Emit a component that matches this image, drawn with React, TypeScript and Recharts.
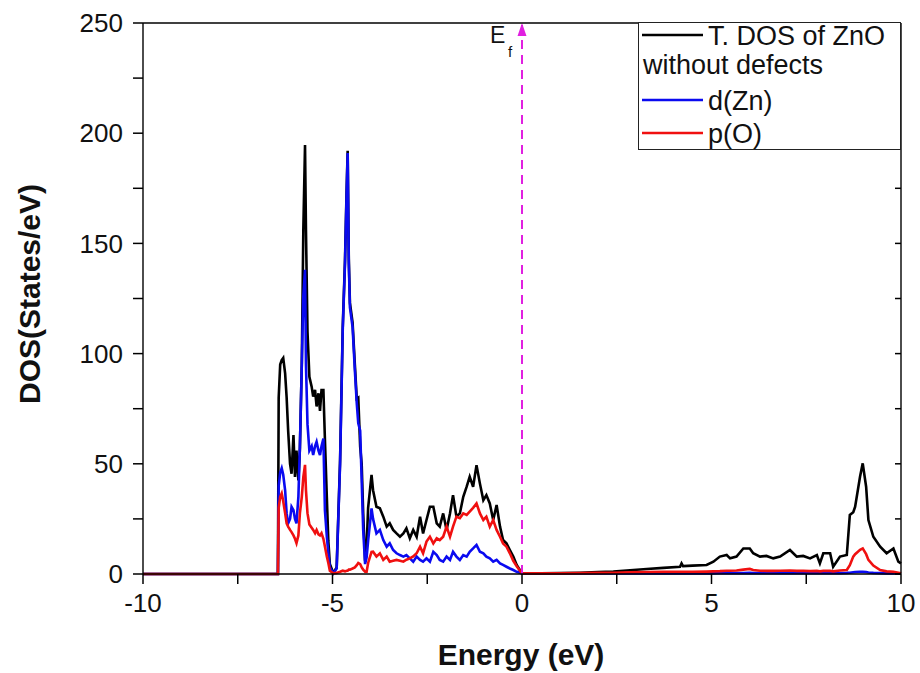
import { LineChart, Line, XAxis, YAxis, ReferenceLine, Legend } from "recharts";

// energy grid (eV) and densities of states (states/eV)
const energy = [
  -10, -6.44,
  -6.42, -6.38, -6.34, -6.3, -6.25, -6.21, -6.17, -6.12, -6.08, -6.03,
  -5.99, -5.95, -5.9, -5.86, -5.81, -5.77, -5.725, -5.7, -5.66, -5.61,
  -5.55, -5.51, -5.46, -5.42, -5.37, -5.33, -5.29, -5.24, -5.2, -5.15,
  -5.11, -5.07, -4.98, -4.89, -4.8, -4.73, -4.67, -4.63, -4.6, -4.57,
  -4.54, -4.47, -4.41, -4.36, -4.32, -4.27, -4.23, -4.19, -4.14,
  -4.1, -4.06, -3.97, -3.93, -3.84, -3.75, -3.66, -3.57, -3.49, -3.4,
  -3.31, -3.22, -3.13, -3.05, -2.96, -2.87, -2.78, -2.69, -2.61, -2.52,
  -2.43, -2.34, -2.25, -2.17, -2.08, -1.99, -1.9, -1.82, -1.73, -1.64,
  -1.55, -1.46, -1.38, -1.29, -1.2, -1.11, -1.02, -0.94, -0.85, -0.76,
  -0.67, -0.58, -0.5, -0.41, -0.32, -0.23, -0.14, 0,
  0.5, 1.0, 1.53, 2.0, 2.41, 2.85, 3.29, 3.73, 4.17, 4.21,
  4.25, 4.5, 4.87, 5.05, 5.22, 5.4, 5.49, 5.66, 5.84, 6.01,
  6.1, 6.28, 6.45, 6.63, 6.81, 7.07, 7.25, 7.42, 7.6, 7.78,
  7.86, 7.95, 8.13, 8.21, 8.39, 8.57, 8.65, 8.74, 8.79, 8.92,
  8.99, 9.08, 9.14, 9.27, 9.45, 9.62, 9.8, 9.93, 10,
];

const totalDos = [
  0, 0,
  80, 95, 97, 98, 91, 80, 65, 50, 45.5, 63,
  44, 56, 42.5, 57, 95.6, 156, 194.6, 156, 110, 89.5,
  85, 80.5, 83.5, 76, 82, 74, 83.5, 83.5, 61, 35,
  15, 4.5, 0.5, 3, 51.5, 112, 142.5, 172.5, 192, 143,
  123, 114, 95, 79.5, 80, 57.8, 50, 27.5, 6,
  12.5, 30, 45, 38, 30.5, 29.8, 26, 21.5, 23, 20,
  18.4, 16.9, 18.4, 20.7, 16.2, 20, 16.9, 26, 18.4, 24.5,
  30.5, 30.5, 23, 21.5, 27.5, 20, 27.5, 35.8, 26, 27.5,
  35, 39.6, 44.1, 39.6, 49.4, 41, 33.5, 35.8, 32, 24.5,
  31.3, 21.5, 15.4, 13.9, 10.9, 7.9, 4.1, 0.3,
  0.3, 0.4, 0.6, 0.9, 1.1, 1.7, 2.3, 2.8, 3.3, 4.8,
  3.6, 3.8, 4.1, 5.6, 7.9, 8.6, 7.1, 7.9, 11.6, 11.6,
  9.4, 7.9, 8.2, 7.1, 7.9, 10.9, 7.9, 8.2, 7.1, 8.6,
  4.8, 9.4, 9.4, 3.3, 7.9, 8.6, 26.8, 28, 30.5, 44.2,
  50.2, 39.6, 24.5, 16.9, 12.4, 9.4, 11.6, 5.6, 4.8,
];

const dZnDos = [
  0, 0,
  40, 46, 48, 45, 38, 27.5, 23, 25, 30.5, 29,
  25, 23, 35, 57.8, 95, 126, 138, 95, 68, 56,
  58, 54, 58, 60, 56, 54, 58, 61.5, 29, 17,
  9.6, 3, 0.3, 2.5, 50, 110.7, 141, 171, 191, 141,
  121, 112, 92.5, 77.5, 68.4, 65, 42.6, 20, 4.5,
  7.5, 15, 29.8, 25, 18.4, 20, 15.4, 12.4, 13.9, 10.9,
  9.4, 8.6, 7.9, 8.6, 7.1, 5.6, 7.9, 6.4, 5.6, 7.1,
  5.6, 10.1, 8.6, 6.4, 5.6, 7.9, 6.4, 10.1, 7.9, 6.4,
  8.6, 7.9, 10.1, 11.6, 13.2, 10.1, 9.4, 7.9, 7.1, 5.6,
  6.4, 4.8, 4.1, 3.3, 2.5, 1.8, 1, 0.3,
  0.2, 0.2, 0.2, 0.2, 0.2, 0.2, 0.3, 0.3, 0.3, 0.3,
  0.3, 0.3, 0.3, 0.3, 0.4, 0.4, 0.4, 0.4, 0.4, 0.5,
  0.4, 0.4, 0.4, 0.4, 0.4, 0.4, 0.4, 0.4, 0.4, 0.4,
  0.4, 0.4, 0.4, 0.4, 0.4, 0.5, 0.6, 0.8, 0.9, 1.0,
  1.0, 0.9, 0.7, 0.5, 0.4, 0.3, 0.3, 0.3, 0.2,
];

const pODos = [
  0, 0,
  30, 35, 36.6, 33, 27.6, 23, 21.5, 20, 19, 17.5,
  16, 14, 17.5, 27.6, 35, 44, 49.5, 38, 27.6, 22.5,
  21, 20, 18.5, 20, 18, 17.5, 18.5, 16, 12.5, 8,
  5, 1.5, 0.3, 0.5, 1, 1.5, 1.2, 1.5, 1.5, 2,
  2, 2.5, 3, 4, 5, 4.5, 3, 2, 1,
  1, 5, 10, 10.1, 7.9, 9.4, 6.4, 7.9, 5.6, 6,
  6.4, 6, 5.6, 6.5, 7.1, 8, 9.4, 12.4, 9.4, 14.7,
  16.9, 13.9, 16.2, 15.4, 16.9, 21.5, 16.9, 21.5, 26, 25.3,
  27.5, 26.8, 28.3, 30, 32, 27.5, 24.5, 26, 21.5, 24.5,
  20, 16.9, 13.9, 12.4, 9.4, 6, 3.5, 0.3,
  0.3, 0.3, 0.4, 0.5, 0.6, 0.8, 0.9, 1.0, 1.0, 1.0,
  1.0, 1.0, 1.1, 1.2, 1.3, 1.5, 1.5, 1.6, 2.0, 2.3,
  1.8, 1.5, 1.4, 1.4, 1.5, 1.6, 1.4, 1.4, 1.3, 1.4,
  1.2, 1.4, 1.4, 1.2, 1.6, 1.8, 4, 7.9, 9, 11,
  11.6, 9, 6.4, 3.8, 1.8, 1.2, 1.0, 0.6, 0.3,
];

const xAll = [-10, -7.5, -5, -2.5, 0, 2.5, 5, 7.5, 10];
const yAll = [0, 25, 50, 75, 100, 125, 150, 175, 200, 225, 250];
const xMin = -10;
const xMax = 10;
const yMax = 250;

const rows = energy.map((e, i) => ({
  e,
  total: totalDos[i],
  d: dZnDos[i],
  p: pODos[i],
}));

const FONT = '"Liberation Sans", Arial, sans-serif';
const AXIS = "#000";
const MAGENTA = "#e020e0";
const TOP = 23; // height of the top frame axis = plot top
const tickLine = { stroke: AXIS, strokeWidth: 1.5 };
const tickText = { fontSize: 26, fill: "#111", fontFamily: FONT };
const axisLine = { stroke: AXIS, strokeWidth: 1.4 };

// only multiples of 5 eV / 50 states get a label
const xLabel = (v: number) => (v % 5 === 0 ? String(v) : "");
const yLabel = (v: number) => (v % 50 === 0 ? String(v) : "");

function EfMarker({ viewBox }: any) {
  const { x, y } = viewBox;
  return (
    <g>
      <polygon points={`${x - 4.5},${y + 13} ${x + 4.5},${y + 13} ${x},${y}`} fill={MAGENTA} />
      <text x={x - 32} y={y + 20} fontSize={23} fontFamily={FONT} fill="#111">E</text>
      <text x={x - 14} y={y + 34} fontSize={15} fontFamily={FONT} fill="#111">f</text>
    </g>
  );
}

function LegendBox({ payload }: any) {
  const items = payload || [];
  const rowsY = [13, 78, 111];
  return (
    <svg width={263} height={128} style={{ display: "block" }}>
      <rect x={0.5} y={0.5} width={262} height={127} fill="#fff" stroke="#222" strokeWidth={1} />
      {items.map((it: any, i: number) => {
        const ly = rowsY[i];
        const parts = String(it.value).split(" without ");
        return (
          <g key={i}>
            <line x1={4} x2={65} y1={ly} y2={ly} stroke={it.color} strokeWidth={2.5} />
            <text x={70} y={ly + 9.5} fontSize={27} fontFamily={FONT} fill="#111">
              {parts[0]}
            </text>
            {parts[1] && (
              <text x={5} y={51.5} fontSize={27} fontFamily={FONT} fill="#111">
                {"without " + parts[1]}
              </text>
            )}
          </g>
        );
      })}
    </svg>
  );
}

// x title; also closes the frame on the right side of the plot, with inward ticks
function XTitle({ viewBox }: any) {
  const right = viewBox.x + viewBox.width;
  const bottom = viewBox.y;
  const h = bottom - TOP;
  return (
    <g>
      <line x1={right} x2={right} y1={TOP} y2={bottom} stroke={AXIS} strokeWidth={1.4} />
      {yAll.map((v) => {
        const ty = bottom - (v / yMax) * h;
        return <line key={v} x1={right - 6} x2={right} y1={ty} y2={ty} stroke={AXIS} strokeWidth={1.5} />;
      })}
      <text
        x={viewBox.x + viewBox.width / 2 - 1}
        y={viewBox.y + 91}
        textAnchor="middle"
        fontSize={30}
        fontWeight="bold"
        fontFamily={FONT}
        fill="#111"
      >
        Energy (eV)
      </text>
    </g>
  );
}

function YTitle() {
  const cx = 40;
  const cy = 294;
  return (
    <text
      x={cx}
      y={cy}
      transform={`rotate(-90, ${cx}, ${cy})`}
      textAnchor="middle"
      fontSize={30}
      fontWeight="bold"
      fontFamily={FONT}
      fill="#111"
    >
      DOS(States/eV)
    </text>
  );
}

export default function App() {
  return (
    <div style={{ position: "absolute", left: 0, top: 0, background: "#fff" }}>
      <LineChart
        width={920}
        height={673}
        data={rows}
        margin={{ top: 0, right: 19, bottom: 0, left: 0 }}
      >
        <XAxis
          dataKey="e"
          type="number"
          domain={[xMin, xMax]}
          ticks={xAll}
          interval={0}
          height={99}
          tickSize={10}
          tickMargin={10}
          tickFormatter={xLabel}
          tickLine={tickLine}
          tick={tickText}
          axisLine={axisLine}
          label={{ content: (p: any) => <XTitle {...p} /> }}
        />
        {/* frame on top: ticks point into the plot */}
        <XAxis
          xAxisId="top"
          orientation="top"
          dataKey="e"
          type="number"
          domain={[xMin, xMax]}
          ticks={xAll}
          interval={0}
          height={TOP}
          tickSize={-6}
          tick={false}
          tickLine={tickLine}
          axisLine={axisLine}
        />
        <YAxis
          type="number"
          domain={[0, yMax]}
          ticks={yAll}
          interval={0}
          width={143}
          tickSize={10}
          tickMargin={10}
          tickFormatter={yLabel}
          tickLine={tickLine}
          tick={tickText}
          axisLine={axisLine}
          label={{ content: () => <YTitle /> }}
        />
        <Line
          type="linear"
          dataKey="total"
          name="T. DOS of ZnO without defects"
          stroke="#000000"
          strokeWidth={2.6}
          dot={false}
          isAnimationActive={false}
        />
        <Line
          type="linear"
          dataKey="d"
          name="d(Zn)"
          stroke="#0a0af0"
          strokeWidth={2.6}
          dot={false}
          isAnimationActive={false}
        />
        <Line
          type="linear"
          dataKey="p"
          name="p(O)"
          stroke="#f01010"
          strokeWidth={2.6}
          dot={false}
          isAnimationActive={false}
        />
        <ReferenceLine
          x={0}
          stroke={MAGENTA}
          strokeWidth={2}
          strokeDasharray="9 6"
          label={(p: any) => <EfMarker {...p} />}
        />
        <Legend
          layout="horizontal"
          verticalAlign="middle"
          align="center"
          content={(p: any) => <LegendBox {...p} />}
          wrapperStyle={{ left: 638, top: 22, width: 263, height: 128 }}
        />
      </LineChart>
    </div>
  );
}
